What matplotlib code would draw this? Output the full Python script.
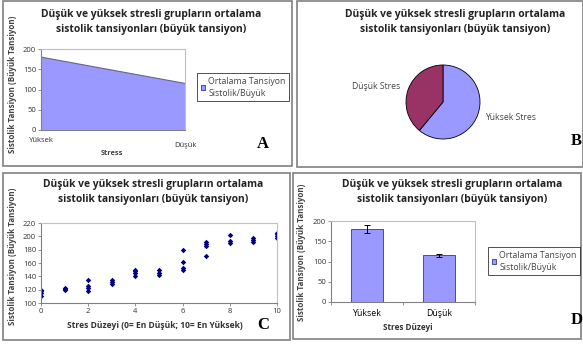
import matplotlib
matplotlib.use("Agg")
import matplotlib.pyplot as plt
from matplotlib.patches import Rectangle, Patch
import matplotlib.transforms as mtransforms

# ---- data -------------------------------------------------------------
title = "Düşük ve yüksek stresli grupların ortalama\nsistolik tansiyonları (büyük tansiyon)"
y_title = "Sistolik Tansiyon (Büyük Tansiyon)"
legend_label = "Ortalama Tansiyon\nSistolik/Büyük"

groups = ["Yüksek", "Düşük"]
mean_bp = [180, 115]
err_bp = [10, 4]
pie_labels = ["Yüksek Stres", "Düşük Stres"]

stress_level = [0, 0, 0, 0,
                1, 1, 1,
                2, 2, 2, 2,
                3, 3, 3,
                4, 4, 4, 4,
                5, 5, 5,
                6, 6, 6, 6,
                7, 7, 7, 7,
                8, 8, 8,
                9, 9, 9,
                10, 10, 10, 10]
systolic = [110, 115, 118, 120,
            119, 121, 122,
            118, 122, 125, 135,
            128, 131, 134,
            140, 145, 148, 150,
            142, 145, 150,
            150, 152, 161, 180,
            170, 186, 189, 191,
            190, 193, 202,
            192, 195, 198,
            197, 200, 203, 205]

area_ticks = [0, 50, 100, 150, 200]
scatter_yticks = [100, 120, 140, 160, 180, 200, 220]
scatter_xticks = [0, 2, 4, 6, 8, 10]

# ---- style ------------------------------------------------------------
FILL = "#9999FF"
EDGE = "#333399"
PLUM = "#993366"
NAVY = "#000080"
TXT = "#333333"
SANS = ["Open Sans", "DejaVu Sans"]
SERIF = ["Liberation Serif", "DejaVu Serif"]
plt.rcParams["font.family"] = SANS

W, H = 583, 345
fig = plt.figure(figsize=(W / 100, H / 100), dpi=100)


def fx(x):
    return x / W


def fy(y):
    return 1 - y / H


def px_axes(l, t, r, b):
    return fig.add_axes([l / W, 1 - b / H, (r - l) / W, (b - t) / H])


def frame(l, t, r, b):
    fig.add_artist(Rectangle((fx(l), fy(b)), (r - l) / W, (b - t) / H,
                             transform=fig.transFigure, fill=False,
                             ec="#808080", lw=1.2))


def style_axes(ax):
    for s in ("left", "bottom"):
        ax.spines[s].set_color("#808080")
        ax.spines[s].set_linewidth(0.8)
    for s in ("top", "right"):
        ax.spines[s].set_color("#c0c0c0")
        ax.spines[s].set_linewidth(0.8)
    ax.tick_params(labelsize=5.5, labelcolor=TXT, color="#808080",
                   length=2, width=0.6, pad=1.5)


def heading(cx, cy):
    fig.text(fx(cx), fy(cy), title, ha="center", va="center",
             fontsize=7.4, fontweight="bold", color="#222222",
             linespacing=1.5)


def ytitle(x, cy):
    fig.text(fx(x), fy(cy), y_title, rotation=90, ha="center", va="center",
             fontsize=5.8, fontweight="bold", color="#444444")


def letter(ch, cx, cy):
    fig.text(fx(cx), fy(cy), ch, ha="center", va="center", fontsize=12,
             fontweight="bold", family=SERIF, color="black")


def legend_box(x, y):
    h = Patch(facecolor=FILL, edgecolor=EDGE, linewidth=0.6)
    lg = fig.legend([h], [legend_label], loc="upper left",
                    bbox_to_anchor=(fx(x), fy(y)), borderaxespad=0,
                    fontsize=6.3, frameon=True, fancybox=False,
                    handlelength=0.5, handleheight=0.5, handletextpad=0.4,
                    borderpad=0.4, labelcolor="#444444")
    for t in lg.get_texts():
        t.set_linespacing(1.45)
    lg.get_frame().set_edgecolor("black")
    lg.get_frame().set_linewidth(0.6)


# panel frames
frame(3, 1, 292, 166)
frame(297, 1, 583, 167)
frame(3, 173, 290, 340)
frame(293, 173, 581, 339)

# ---- A: area chart ----------------------------------------------------
axA = px_axes(41, 49, 185, 130)
xa = list(range(len(groups)))
axA.fill_between(xa, mean_bp, 0, facecolor=FILL, edgecolor="none")
axA.plot(xa, mean_bp, color="#666688", lw=0.8)
axA.set_xlim(0, 1)
axA.set_ylim(0, 200)
axA.set_yticks(area_ticks)
axA.set_xticks(xa)
axA.set_xticklabels(groups, fontsize=6.5)
style_axes(axA)
axA.tick_params(axis="x", length=0, pad=5)
lbls = axA.get_xticklabels()
lbls[1].set_transform(lbls[1].get_transform() +
                      mtransforms.ScaledTranslation(0, -5 / 100, fig.dpi_scale_trans))
fig.text(fx(112), fy(154), "Stress", ha="center", va="center",
         fontsize=5.3, fontweight="bold", color="#444444")
heading(151, 22)
ytitle(13, 84)
legend_box(197, 73)
letter("A", 263, 144)

# ---- B: pie chart -----------------------------------------------------
axB = px_axes(406, 65, 480, 139)
wedges, texts = axB.pie(mean_bp, labels=pie_labels, colors=[FILL, PLUM],
                        startangle=90, counterclock=False, labeldistance=1.22,
                        wedgeprops=dict(edgecolor="black", linewidth=0.6),
                        textprops=dict(fontsize=6.2, color="#444444"))
axB.set_xlim(-1, 1)
axB.set_ylim(-1, 1)
axB.set_aspect("equal")
heading(455, 22)
letter("B", 576, 141)

# ---- C: scatter -------------------------------------------------------
axC = px_axes(41, 223, 277, 303)
axC.plot(stress_level, systolic, linestyle="none", marker="D",
         markersize=2.8, color=NAVY, markeredgewidth=0)
axC.set_xlim(0, 10)
axC.set_ylim(100, 220)
axC.set_yticks(scatter_yticks)
axC.set_xticks(scatter_xticks)
style_axes(axC)
fig.text(fx(155), fy(325), "Stres Düzeyi (0= En Düşük; 10= En Yüksek)",
         ha="center", va="center", fontsize=6.1, fontweight="bold",
         color="#333333")
heading(153, 192)
ytitle(13, 256)
letter("C", 263, 325)

# ---- D: bar chart with error bars ---------------------------------------
axD = px_axes(331, 221, 475, 302)
axD.bar(xa, mean_bp, width=0.44, color=FILL, edgecolor=EDGE, linewidth=0.6,
        yerr=err_bp, capsize=2,
        error_kw=dict(ecolor="black", elinewidth=0.7, capthick=0.7))
axD.set_xlim(-0.5, 1.5)
axD.set_ylim(0, 200)
axD.set_yticks(area_ticks)
axD.set_xticks([-0.5, 0.5, 1.5])
axD.set_xticklabels([])
axD.set_xticks(xa, minor=True)
axD.set_xticklabels(groups, minor=True, fontsize=6.3)
style_axes(axD)
axD.tick_params(axis="x", which="minor", length=0, pad=5)
fig.text(fx(408), fy(327), "Stres Düzeyi", ha="center", va="center",
         fontsize=5.9, fontweight="bold", color="#333333")
heading(452, 192)
ytitle(302, 252)
legend_box(488, 247)
letter("D", 577, 320)

fig.savefig("out.png", dpi=100)
